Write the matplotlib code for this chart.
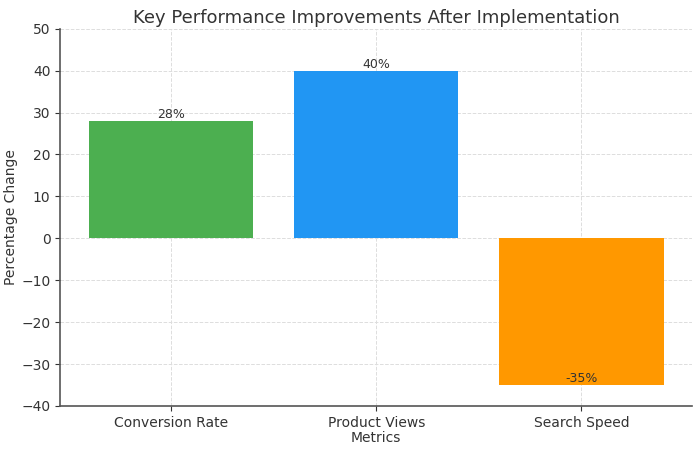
import matplotlib.pyplot as plt

metrics = ['Conversion Rate', 'Product Views', 'Search Speed']
changes = [28, 40, -35]
colors = ['#4CAF50', '#2196F3', '#FF9800']

text_color = '#333333'

fig, ax = plt.subplots(figsize=(7, 4.5), dpi=100)
bars = ax.bar(metrics, changes, color=colors, zorder=2)

for bar, value in zip(bars, changes):
    ax.text(bar.get_x() + bar.get_width() / 2, value, f'{value}%',
            ha='center', va='bottom', fontsize=9, color=text_color, zorder=3)

ax.set_ylim(-40, 50)
ax.set_title('Key Performance Improvements After Implementation', fontsize=13, color=text_color, pad=4)
ax.set_xlabel('Metrics', fontsize=10, color=text_color, labelpad=1)
ax.set_ylabel('Percentage Change', fontsize=10, color=text_color, labelpad=2)
ax.tick_params(colors=text_color, labelsize=10)
ax.grid(True, linestyle='--', color='#dddddd', linewidth=0.7, zorder=0)

for side in ['top', 'right']:
    ax.spines[side].set_visible(False)
for side in ['left', 'bottom']:
    ax.spines[side].set_color('#555555')
    ax.spines[side].set_linewidth(1.2)

fig.subplots_adjust(left=0.086, right=0.989, top=0.936, bottom=0.098)
fig.savefig('out.png')
